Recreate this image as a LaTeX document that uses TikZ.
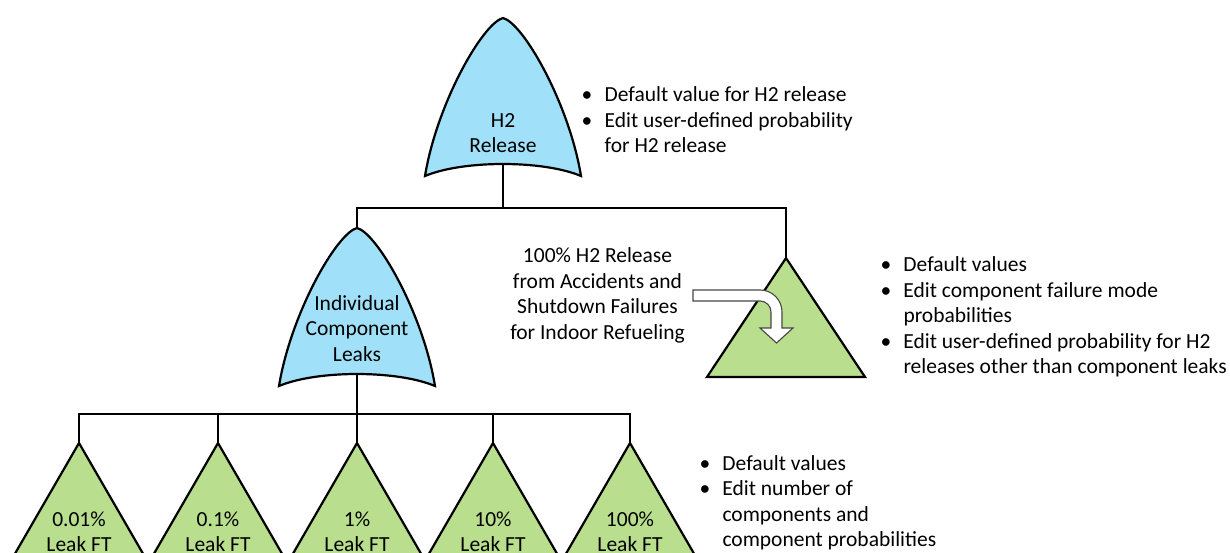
\documentclass[tikz,border=0pt]{standalone}
\usepackage{fontspec}
\setmainfont{Carlito}

\definecolor{gateblue}{RGB}{160,224,248}
\definecolor{leafgreen}{RGB}{184,222,142}
\definecolor{arrowline}{RGB}{70,70,70}

% bullet column for the note lists
\newcommand{\bulletcell}{\makebox[23pt][l]{\textbullet}}

\tikzset{
  wire/.style={line width=2.2pt},
  gateshape/.style={draw=black, line width=2.2pt, fill=gateblue, line join=miter},
  leaf/.style={draw=black, line width=2.2pt, fill=leafgreen, line join=miter},
  bentarrow/.style={draw=arrowline, line width=1.1pt, fill=white, line join=miter},
  lbl/.style={anchor=base, inner sep=0pt},
  notes/.style={anchor=base west, inner sep=0pt},
  % OR-type gate: pointed arch with a concave base
  pics/orgate/.style={code={
    \draw[gateshape] (0,0) .. controls (20,5) and (66,85) .. (78,158)
      .. controls (40,142) and (-40,142) .. (-78,158)
      .. controls (-66,85) and (-20,5) .. cycle;
    \coordinate (-top) at (0,0);
    \coordinate (-bot) at (0,145);
  }}
}

\begin{document}
\begin{tikzpicture}[x=1pt, y=-1pt,
  every node/.style={font=\fontsize{21.5}{25.5}\selectfont}]
\useasboundingbox (0,0) rectangle (1230,553);
\clip (0,0) rectangle (1230,553);

% connection points of the gates and leaves
\coordinate (h2-bot) at (503,163);
\coordinate (icl-top) at (357,228);
\coordinate (icl-bot) at (357,373);
\coordinate (oth-top) at (786,258);
\foreach \n/\x in {1/79, 2/218, 3/357, 4/493, 5/630}
  \coordinate (lk\n-top) at (\x,443);

% tree connectors
\draw[wire] (h2-bot) -- ++(0,45) coordinate (j1);
\draw[wire] (icl-top) |- (j1) -| (oth-top);
\draw[wire] (icl-bot) -- ++(0,41) coordinate (j2);
\draw[wire] (lk1-top) |- (j2) -| (lk5-top);
\foreach \n in {2,3,4}
  \draw[wire] (lk\n-top) -- (lk\n-top |- j2);

% gates
\pic (h2) at (503,18) {orgate};
\pic (icl) at (357,228) {orgate};

% leaf events
\draw[leaf] (oth-top) -- ++(79,119) -- ++(-158,0) -- cycle;
\foreach \n in {1,...,5}
  \draw[leaf] (lk\n-top) -- ++(81,140) -- ++(-162,0) -- cycle;

% bent block arrow entering the right leaf
\draw[bentarrow] (693,290) -- (760,290)
  .. controls (772.2,290) and (782,299.8) .. (782,312)
  -- (782,328) -- (793,328) -- (776.5,343) -- (760,328) -- (771,328)
  -- (771,312) .. controls (771,305.9) and (766.1,301) .. (760,301)
  -- (693,301) -- cycle;

% labels
\node[lbl] (h2-lbl) at (503,127.5)
  {\begin{tabular}[t]{@{}c@{}}H2\\Release\end{tabular}};
\node[lbl] (icl-lbl) at (357,310)
  {\begin{tabular}[t]{@{}c@{}}Individual\\Component\\Leaks\end{tabular}};
\node[lbl] (oth-lbl) at (597.5,262.7)
  {\begin{tabular}[t]{@{}c@{}}100\% H2 Release\\from Accidents and\\Shutdown Failures\\for Indoor Refueling\end{tabular}};
\foreach \n/\p in {1/0.01, 2/0.1, 3/1, 4/10, 5/100}
  \node[lbl] (lk\n-lbl) at ([yshift=-83pt]lk\n-top)
    {\begin{tabular}[t]{@{}c@{}}\p\%\\Leak FT\end{tabular}};

% notes
\node[notes] (h2-notes) at (581.5,101.7)
  {\begin{tabular}[t]{@{}l@{}l@{}}
   \bulletcell & Default value for H2 release\\
   \bulletcell & Edit user-defined probability\\
               & for H2 release
   \end{tabular}};
\node[notes] (oth-notes) at (880.3,271.7)
  {\begin{tabular}[t]{@{}l@{}l@{}}
   \bulletcell & Default values\\
   \bulletcell & Edit component failure mode\\
               & probabilities\\
   \bulletcell & Edit user-defined probability for H2\\
               & releases other than component leaks
   \end{tabular}};
\node[notes] (lk-notes) at (699.3,470)
  {\begin{tabular}[t]{@{}l@{}l@{}}
   \bulletcell & Default values\\
   \bulletcell & Edit number of\\
               & components and\\
               & component probabilities
   \end{tabular}};
\end{tikzpicture}
\end{document}
